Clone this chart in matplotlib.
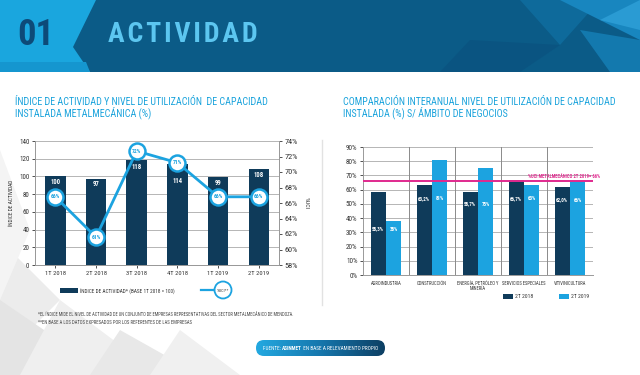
import matplotlib
matplotlib.use("Agg")
import matplotlib.pyplot as plt
import numpy as np
from matplotlib.patches import Polygon, Rectangle, FancyBboxPatch, Circle
from matplotlib.colors import LinearSegmentedColormap

# ---------------- data ----------------
quarters = ["1T 2018", "2T 2018", "3T 2018", "4T 2018", "1T 2019", "2T 2019"]
activity_index = [100, 97, 118, 114, 99, 108]
uci_pct = [66.8, 61.6, 72.7, 71.2, 66.8, 66.8]

sectors = ["AGROINDUSTRIA", "CONSTRUCCIÓN", "ENERGÍA, PETRÓLEO Y\nMINERÍA",
           "SERVICIOS ESPECIALES", "VITIVINICULTURA"]
uci_2018 = [58.3, 63.2, 58.7, 66.7, 62.0]
uci_2019 = [38, 81, 75, 63, 66]
uci_metal_2t2019 = 66

left_yticks = [0, 20, 40, 60, 80, 100, 120, 140]
right_yticks = [58, 60, 62, 64, 66, 68, 70, 72, 74]
sector_yticks = [0, 10, 20, 30, 40, 50, 60, 70, 80, 90]

# ---------------- style ----------------
plt.rcParams["font.family"] = ["Roboto Condensed", "Open Sans Condensed",
                               "Liberation Sans Narrow", "DejaVu Sans"]
plt.rcParams["font.stretch"] = "condensed"
DARK = "#0f3b5a"
LIGHT = "#1ca3e0"
TITLE = "#1aa3dc"
GRID = "#b5b5b5"
TXT = "#333333"
MAGENTA = "#e0298e"

W, H = 640, 375
fig = plt.figure(figsize=(W / 100, H / 100), dpi=100)
fig.patch.set_facecolor("white")
fits = []


def fit(t, w=None, h=None):
    fits.append((t, w, h))
    return t


def ax_rect(x0, y0, x1, y1):
    return [x0 / W, 1 - y1 / H, (x1 - x0) / W, (y1 - y0) / H]


bg = fig.add_axes([0, 0, 1, 1], zorder=0)
bg.set_xlim(0, W)
bg.set_ylim(H, 0)
bg.axis("off")

for pts, c in [
    ([(0, 240), (60, 300), (0, 360)], "#ececec"),
    ([(0, 300), (110, 375), (0, 375)], "#e4e4e4"),
    ([(60, 300), (160, 375), (20, 375)], "#efefef"),
    ([(120, 330), (200, 375), (90, 375)], "#e8e8e8"),
    ([(180, 330), (240, 375), (150, 375)], "#f0f0f0"),
    ([(0, 150), (30, 230), (0, 300)], "#f4f4f4"),
]:
    bg.add_patch(Polygon(pts, closed=True, fc=c, ec="none"))

# header
bg.add_patch(Rectangle((0, 0), W, 72, fc="#0b5b87", ec="none"))
for pts, c in [
    ([(520, 0), (600, 0), (560, 45)], "#0e6a9b"),
    ([(560, 0), (640, 0), (640, 40), (600, 20)], "#1886bf"),
    ([(580, 30), (640, 40), (640, 72), (610, 72)], "#1379ae"),
    ([(600, 20), (640, 0), (640, 30)], "#2a9bd3"),
    ([(470, 40), (560, 45), (520, 72), (440, 72)], "#0a5481"),
]:
    bg.add_patch(Polygon(pts, closed=True, fc=c, ec="none"))
bg.add_patch(Polygon([(0, 0), (96, 0), (73, 47), (90, 72), (0, 72)],
                     closed=True, fc="#1aa6de", ec="none"))
bg.add_patch(Polygon([(0, 62), (86, 62), (90, 72), (0, 72)],
                     closed=True, fc="#1596cf", ec="none"))
fit(bg.text(36, 35, "01", color="#0d4a78", fontsize=25, fontweight="bold",
            ha="center", va="center"), w=37)
fit(bg.text(108, 34, "\u200a".join("ACTIVIDAD"), color="#5cc6f0", fontsize=19,
            fontweight="bold", ha="left", va="center"), w=149)

# section titles
fit(bg.text(15, 108, "ÍNDICE DE ACTIVIDAD Y NIVEL DE UTILIZACIÓN  DE CAPACIDAD\n"
            "INSTALADA METALMECÁNICA (%)", color=TITLE, fontsize=8,
            ha="left", va="center", linespacing=1.0), w=253)
fit(bg.text(343, 108, "COMPARACIÓN INTERANUAL NIVEL DE UTILIZACIÓN DE CAPACIDAD\n"
            "INSTALADA (%) S/ ÁMBITO DE NEGOCIOS", color=TITLE, fontsize=8,
            ha="left", va="center", linespacing=1.0), w=272)

bg.plot([322, 322], [140, 305], color="#e2e2e2", lw=1)

# ---------------- left chart ----------------
ax1 = fig.add_axes(ax_rect(35, 141, 279, 265), zorder=2)
ax1.patch.set_alpha(0)
x = np.arange(len(quarters))
ax1.bar(x, activity_index, width=0.5, color=DARK, zorder=3)
ax1.set_xlim(-0.5, len(quarters) - 0.5)
ax1.set_ylim(0, 140)
ax1.set_yticks(left_yticks)
ax1.set_xticks(x)
ax1.set_xticklabels(quarters)
ax1.yaxis.grid(True, color=GRID, lw=0.7, zorder=0)
ax1.set_axisbelow(True)
ax1.spines["top"].set_visible(False)
for s in ["left", "right", "bottom"]:
    ax1.spines[s].set_color("#999999")
    ax1.spines[s].set_linewidth(0.7)
ax1.tick_params(axis="both", labelsize=6, colors=TXT, length=2, width=0.6, pad=2)
ax1.set_ylabel("ÍNDICE DE ACTIVIDAD", fontsize=5.5, color=TXT, labelpad=4)

ax2 = ax1.twinx()
R_LO, R_HI = 58, 74
ax2.set_ylim(R_LO, R_HI)

bar_labels = []
for xi, v, u in zip(x, activity_index, uci_pct):
    ly = v * 0.94
    # circle position expressed in left-axis units; move label below if they collide
    cy = (u - R_LO) / (R_HI - R_LO) * 140
    if abs(ly - cy) < 12:
        ly = cy - 21
    bar_labels.append(ax1.text(xi, ly, f"{v}", color="white", fontsize=6.5,
                               fontweight="bold", ha="center", va="center", zorder=5))

ax2.set_yticks(right_yticks)
ax2.set_yticklabels([f"{t}%" for t in right_yticks])
ax2.tick_params(axis="y", labelsize=6, colors=TXT, length=2, width=0.6, pad=2)
ax2.spines["top"].set_visible(False)
for s in ["left", "right", "bottom"]:
    ax2.spines[s].set_color("#999999")
    ax2.spines[s].set_linewidth(0.7)
ax2.set_ylabel("%UCI", fontsize=5.5, color=TXT, rotation=270, labelpad=8)
ax2.plot(x, uci_pct, color=LIGHT, lw=2, marker="o", ms=11.5, mfc="white",
         mec=LIGHT, mew=1.8, zorder=4)
circ_labels = []
for xi, v in zip(x, uci_pct):
    circ_labels.append(ax2.text(xi, v, f"{int(v)}%", color=LIGHT, fontsize=5,
                                fontweight="bold", ha="center", va="center", zorder=6))

# left legend
bg.add_patch(Rectangle((60, 288), 18, 4.5, fc=DARK, ec="none"))
fit(bg.text(80, 290.5, "ÍNDICE DE ACTIVIDAD* (BASE 1T 2018 = 100)", fontsize=4.6,
            color=TXT, ha="left", va="center"), w=95)
bg.plot([201, 214], [290, 290], color=LIGHT, lw=1.6)
bg.add_patch(Circle((223, 290), 8.5, fc="white", ec=LIGHT, lw=1.3))
fit(bg.text(223, 290.5, "%UCI**", fontsize=3.6, color=TXT, ha="center",
            va="center"), w=12)

# ---------------- right chart ----------------
ax3 = fig.add_axes(ax_rect(363, 147, 593, 275), zorder=2)
ax3.patch.set_alpha(0)
xs = np.arange(len(sectors))
bw = 0.33
ax3.bar(xs - 0.17, uci_2018, width=bw, color=DARK, zorder=3)
ax3.bar(xs + 0.17, uci_2019, width=bw, color=LIGHT, zorder=3)
ax3.set_xlim(-0.5, len(sectors) - 0.5)
ax3.set_ylim(0, 90)
ax3.set_yticks(sector_yticks)
ax3.set_yticklabels([f"{t}%" for t in sector_yticks])
ax3.set_xticks(xs)
ax3.set_xticklabels(sectors, linespacing=0.95)
ax3.yaxis.grid(True, color=GRID, lw=0.7, zorder=0)
for b in np.arange(0.5, len(sectors) - 0.5, 1):
    ax3.axvline(b, color="#8a8a8a", lw=0.7, zorder=1)
ax3.set_axisbelow(True)
for s in ["top", "right"]:
    ax3.spines[s].set_visible(False)
for s in ["left", "bottom"]:
    ax3.spines[s].set_color("#999999")
    ax3.spines[s].set_linewidth(0.7)
ax3.tick_params(axis="y", labelsize=5.5, colors=TXT, length=2, width=0.6, pad=2)
ax3.tick_params(axis="x", labelsize=4.6, colors=TXT, length=0, pad=4)
val_labels = []
for xi, a, b in zip(xs, uci_2018, uci_2019):
    ly = 0.85 * min(a, b)
    val_labels.append(ax3.text(xi - 0.17, ly, f"{a:.1f}%".replace(".", ","),
                               color="white", fontsize=4.8, fontweight="bold",
                               ha="center", va="center", zorder=5))
    val_labels.append(ax3.text(xi + 0.17, ly, f"{b:.0f}%", color="white",
                               fontsize=4.8, fontweight="bold", ha="center",
                               va="center", zorder=5))
ax3.axhline(uci_metal_2t2019, color=MAGENTA, lw=1.4, zorder=4)
fit(ax3.text(1.03, uci_metal_2t2019 + 1.2,
             f"%UCI METALMECÁNICO 2T 2019= {uci_metal_2t2019}%",
             transform=ax3.get_yaxis_transform(), color=MAGENTA, fontsize=4.3,
             fontweight="bold", ha="right", va="bottom", zorder=6, clip_on=False),
    w=73)

bg.add_patch(Rectangle((503, 294), 10, 5, fc=DARK, ec="none"))
fit(bg.text(515, 296.5, "2T 2018", fontsize=4.8, color=TXT, ha="left",
            va="center"), w=18)
bg.add_patch(Rectangle((559, 294), 10, 5, fc=LIGHT, ec="none"))
fit(bg.text(571, 296.5, "2T 2019", fontsize=4.8, color=TXT, ha="left",
            va="center"), w=18)

# footnotes
fit(bg.text(38, 315, "*EL ÍNDICE MIDE EL NIVEL DE ACTIVIDAD DE UN CONJUNTO DE EMPRESAS "
            "REPRESENTATIVAS DEL SECTOR METALMECÁNICO DE MENDOZA.", fontsize=3.4,
            color="#444444", ha="left", va="center"), w=258)
fit(bg.text(38, 322, "**EN BASE A LOS DATOS EXPRESADOS POR LOS REFERENTES DE LAS EMPRESAS",
            fontsize=3.4, color="#444444", ha="left", va="center"), w=155)

# source pill
pill = FancyBboxPatch((256, 340), 129, 16, boxstyle="round,pad=0,rounding_size=8",
                      fc="none", ec="none")
bg.add_patch(pill)
grad = np.linspace(0, 1, 256).reshape(1, -1)
cmap = LinearSegmentedColormap.from_list("pill", ["#23a9e1", "#1677ad", "#0d3f63"])
im = bg.imshow(grad, extent=(256, 385, 356, 340), cmap=cmap, aspect="auto", zorder=1)
im.set_clip_path(pill)
bg.set_xlim(0, W)
bg.set_ylim(H, 0)
src_parts = [("FUENTE: ", "normal"), ("ASINMET", "bold"),
             (" EN BASE A RELEVAMIENTO PROPIO", "normal")]
src_texts = [bg.text(0, 348.5, s, fontsize=6, fontweight=fw, color="white",
                     ha="left", va="center", zorder=3) for s, fw in src_parts]

# ---------------- fit text sizes to reference widths ----------------
fig.canvas.draw()
r = fig.canvas.get_renderer()


def scale_to(t, w=None, h=None):
    e = t.get_window_extent(r)
    if w is not None and e.width > 0:
        t.set_fontsize(t.get_fontsize() * w / e.width)
    elif h is not None and e.height > 0:
        t.set_fontsize(t.get_fontsize() * h / e.height)


for t, w, h in fits:
    scale_to(t, w, h)


def scale_group(texts, w):
    texts = list(texts)
    if not texts:
        return
    e = texts[0].get_window_extent(r)
    f = texts[0].get_fontsize() * w / e.width
    for t in texts:
        t.set_fontsize(f)


scale_group(ax1.get_xticklabels(), 21)
scale_group([ax1.get_yticklabels()[-1]] + ax1.get_yticklabels()[:-1], 10.5)
scale_group([ax2.get_yticklabels()[0]] + ax2.get_yticklabels()[1:], 13.5)
scale_group([ax3.get_yticklabels()[-1]] + ax3.get_yticklabels()[:-1], 11.5)
scale_group(ax3.get_xticklabels(), 31)
scale_group(bar_labels, 10)
scale_group(circ_labels, 9.5)
scale_group(val_labels, 12)
scale_to(ax1.yaxis.label, h=47)
scale_to(ax2.yaxis.label, h=12)

# source text: size to total width, then place pieces side by side
total = sum(t.get_window_extent(r).width for t in src_texts)
k = 116 / total
for t in src_texts:
    t.set_fontsize(t.get_fontsize() * k)
fig.canvas.draw()
widths = [t.get_window_extent(r).width for t in src_texts]
xpos = 320.5 - sum(widths) / 2
for t, wpx in zip(src_texts, widths):
    t.set_x(xpos)
    xpos += wpx

fig.savefig("out.png", dpi=100)
